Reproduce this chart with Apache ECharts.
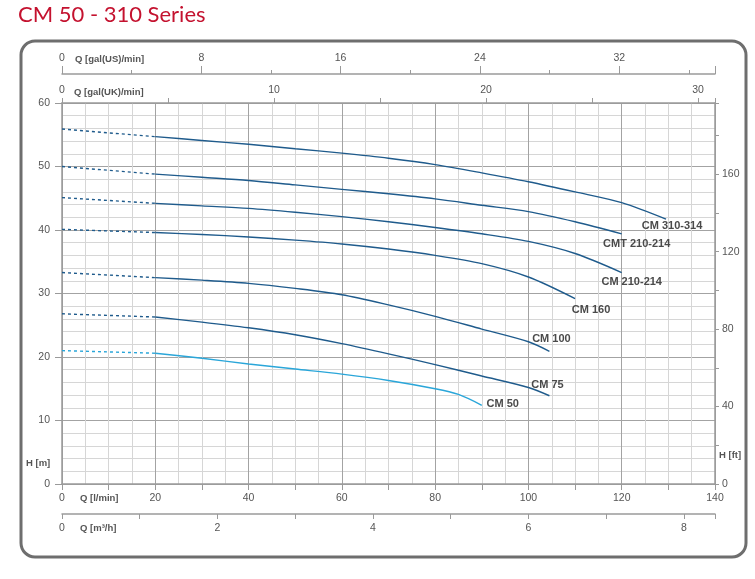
<!DOCTYPE html>
<html>
<head>
<meta charset="utf-8">
<title>CM 50 - 310 Series</title>
<script src="https://cdn.jsdelivr.net/npm/echarts@6/dist/echarts.min.js"></script>
<style>
    html, body { margin: 0; padding: 0; background: #fff; }
    #chart { width: 755px; height: 579px; }
</style>
</head>
<body>
<div id="chart"></div>
<script>
// pump curves, Q in l/min, H in m
var names = ['CM 310-314', 'CMT 210-214', 'CM 210-214', 'CM 160', 'CM 100', 'CM 75', 'CM 50'];

// dashed part (0 .. 20 l/min)
var dashQ = [0, 20];
var dashH = [
    [55.9, 54.7],
    [50.0, 48.8],
    [45.1, 44.2],
    [40.1, 39.6],
    [33.3, 32.5],
    [26.8, 26.3],
    [21.0, 20.6]
];

// solid part
var solidQ = [
    [20, 30, 40, 50, 60, 70, 80, 90, 100, 110, 120, 129.5],
    [20, 30, 40, 50, 60, 70, 80, 90, 100, 110, 120],
    [20, 30, 40, 50, 60, 70, 80, 90, 100, 110, 120],
    [20, 30, 40, 50, 60, 70, 80, 90, 100, 110],
    [20, 30, 40, 50, 60, 70, 80, 90, 100, 104.5],
    [20, 30, 40, 50, 60, 70, 80, 90, 100, 104.5],
    [20, 30, 40, 50, 60, 70, 80, 85, 90]
];
var solidH = [
    [54.7, 54.1, 53.5, 52.8, 52.1, 51.3, 50.3, 49.0, 47.6, 46.0, 44.3, 41.7],
    [48.8, 48.3, 47.8, 47.1, 46.4, 45.7, 44.9, 43.9, 42.9, 41.3, 39.4],
    [44.2, 43.8, 43.4, 42.8, 42.1, 41.3, 40.4, 39.4, 38.2, 36.3, 33.3],
    [39.6, 39.3, 38.9, 38.4, 37.8, 37.0, 36.0, 34.7, 32.6, 29.2],
    [32.5, 32.1, 31.6, 30.8, 29.8, 28.2, 26.4, 24.4, 22.4, 20.9],
    [26.3, 25.5, 24.6, 23.5, 22.1, 20.5, 18.8, 17.0, 15.2, 13.9],
    [20.6, 19.8, 18.9, 18.1, 17.3, 16.3, 15.0, 14.1, 12.4]
];

// axis ranges
var qMax = 140;          // l/min
var hMax = 60;           // m
var m3hMax = qMax / 16.667;
var galUKMax = qMax / 4.546;
var galUSMax = 37.5;     // as printed on the sheet
var ftMax = hMax * 3.2808;

var lineColors = ['#1f5b8c', '#1f5b8c', '#1f5b8c', '#1f5b8c', '#1f5b8c', '#1f5b8c', '#2aa6d9'];
var labelOffsets = [[6, 7], [15, 10], [10, 9], [16, 11], [2, -12], [-2, -11], [21, -1]];

var gridDark = '#a3a3a3';
var gridLight = '#d6d6d6';
var axisColor = '#9a9a9a';
var textColor = '#555';

function pairs(qs, hs){
    var out = [];
    for(var i = 0; i < qs.length; i++){
        out.push([qs[i], hs[i]]);
    }
    return out;
}

function onlyEvery(step){
    return function(v){
        var r = Math.round(v * 1000) / 1000;
        return (Math.abs(r / step - Math.round(r / step)) < 1e-6) ? String(r) : '';
    };
}

// axis label style plus extra keys
function labelStyle(extra){
    var o = { color: textColor, fontSize: 10.5, fontFamily: 'Liberation Sans' };
    for(var k in extra) o[k] = extra[k];
    return o;
}

var series = [];
for(var i = 0; i < names.length; i++){
    series.push({
        name: names[i] + ' dash',
        type: 'line',
        data: pairs(dashQ, dashH[i]),
        showSymbol: false,
        symbol: 'none',
        silent: true,
        z: 5,
        lineStyle: { color: lineColors[i], width: 1.4, type: [3, 3] }
    });
    series.push({
        name: names[i],
        type: 'line',
        data: pairs(solidQ[i], solidH[i]),
        smooth: 0.3,
        showSymbol: false,
        symbol: 'none',
        silent: true,
        z: 5,
        lineStyle: { color: lineColors[i], width: 1.4 },
        endLabel: {
            show: true,
            formatter: names[i],
            distance: 0,
            align: 'center',
            verticalAlign: 'middle',
            offset: labelOffsets[i],
            color: '#4a4a4a',
            fontSize: 11,
            fontWeight: 'bold',
            fontFamily: 'Liberation Sans'
        }
    });
}

var smallName = 'bold 9.5px "Liberation Sans"';

var option = {
    animation: false,
    backgroundColor: '#fff',
    grid: { left: 62, right: 40, top: 103, bottom: 95 },
    xAxis: [
        {
            // Q [l/min]
            type: 'value', position: 'bottom', min: 0, max: qMax, interval: 10,
            axisLine: { onZero: false, lineStyle: { color: axisColor, width: 1.5 } },
            axisTick: { length: 6, lineStyle: { color: axisColor } },
            axisLabel: labelStyle({ margin: 9, formatter: onlyEvery(20) }),
            splitLine: { show: true, lineStyle: { color: [gridDark, gridLight], width: 1 } },
            minorTick: { show: false, splitNumber: 2 },
            minorSplitLine: { show: true, lineStyle: { color: gridLight, width: 1 } }
        },
        {
            // Q [m3/h]
            type: 'value', position: 'bottom', offset: 30, min: 0, max: m3hMax, interval: 2,
            axisLine: { show: true, onZero: false, lineStyle: { color: axisColor, width: 1.5 } },
            axisTick: { show: true, length: 5, lineStyle: { color: axisColor } },
            minorTick: { show: true, splitNumber: 2, length: 5, lineStyle: { color: axisColor } },
            axisLabel: labelStyle({ margin: 9, formatter: onlyEvery(2) }),
            splitLine: { show: false }
        },
        {
            // Q [gal(UK)/min]
            type: 'value', position: 'top', offset: 0, min: 0, max: galUKMax, interval: 10,
            axisLine: { show: true, onZero: false, lineStyle: { color: axisColor, width: 1.5 } },
            axisTick: { show: true, length: 5, lineStyle: { color: axisColor } },
            minorTick: { show: true, splitNumber: 2, length: 5, lineStyle: { color: axisColor } },
            axisLabel: labelStyle({ margin: 7, formatter: onlyEvery(10) }),
            splitLine: { show: false }
        },
        {
            // Q [gal(US)/min]
            type: 'value', position: 'top', offset: 29, min: 0, max: galUSMax, interval: 8,
            axisLine: { show: true, onZero: false, lineStyle: { color: axisColor, width: 1.5 } },
            axisTick: { show: true, length: 8, lineStyle: { color: axisColor } },
            minorTick: { show: true, splitNumber: 2, length: 4, lineStyle: { color: axisColor } },
            axisLabel: labelStyle({ margin: 10, formatter: onlyEvery(8) }),
            splitLine: { show: false }
        }
    ],
    yAxis: [
        {
            // H [m]
            type: 'value', position: 'left', min: 0, max: hMax, interval: 10,
            axisLine: { show: true, onZero: false, lineStyle: { color: axisColor, width: 1.5 } },
            axisTick: { show: true, length: 7, lineStyle: { color: axisColor } },
            axisLabel: labelStyle({ margin: 12 }),
            splitLine: { show: true, lineStyle: { color: gridDark, width: 1 } },
            minorTick: { show: false, splitNumber: 5 },
            minorSplitLine: { show: true, lineStyle: { color: gridLight, width: 1 } }
        },
        {
            // H [ft]
            type: 'value', position: 'right', min: 0, max: ftMax, interval: 40,
            axisLine: { show: true, onZero: false, lineStyle: { color: axisColor, width: 1.5 } },
            axisTick: { show: true, length: 4, lineStyle: { color: axisColor } },
            minorTick: { show: true, splitNumber: 2, length: 4, lineStyle: { color: axisColor } },
            axisLabel: labelStyle({ margin: 7, formatter: onlyEvery(40) }),
            splitLine: { show: false }
        }
    ],
    graphic: [
        {
            type: 'text', x: 18, y: 15, silent: true,
            style: { text: 'CM 50 - 310 Series', fill: '#c4122f', font: '22px Lato', verticalAlign: 'middle' }
        },
        {
            type: 'rect', silent: true, z: -1,
            shape: { x: 21, y: 41, width: 725, height: 516, r: 14 },
            style: { fill: 'none', stroke: '#6e6e6e', lineWidth: 3 }
        },
        { type: 'text', x: 75, y: 59, silent: true,
          style: { text: 'Q [gal(US)/min]', fill: textColor, font: smallName, verticalAlign: 'middle' } },
        { type: 'text', x: 74, y: 92, silent: true,
          style: { text: 'Q [gal(UK)/min]', fill: textColor, font: smallName, verticalAlign: 'middle' } },
        { type: 'text', x: 80, y: 498, silent: true,
          style: { text: 'Q [l/min]', fill: textColor, font: smallName, verticalAlign: 'middle' } },
        { type: 'text', x: 80, y: 528, silent: true,
          style: { text: 'Q [m³/h]', fill: textColor, font: smallName, verticalAlign: 'middle' } },
        { type: 'text', x: 26, y: 463, silent: true,
          style: { text: 'H [m]', fill: textColor, font: smallName, verticalAlign: 'middle' } },
        { type: 'text', x: 719, y: 455, silent: true,
          style: { text: 'H [ft]', fill: textColor, font: smallName, verticalAlign: 'middle' } }
    ],
    series: series
};

var myChart = echarts.init(document.getElementById('chart'));
myChart.setOption(option);
</script>
</body>
</html>
